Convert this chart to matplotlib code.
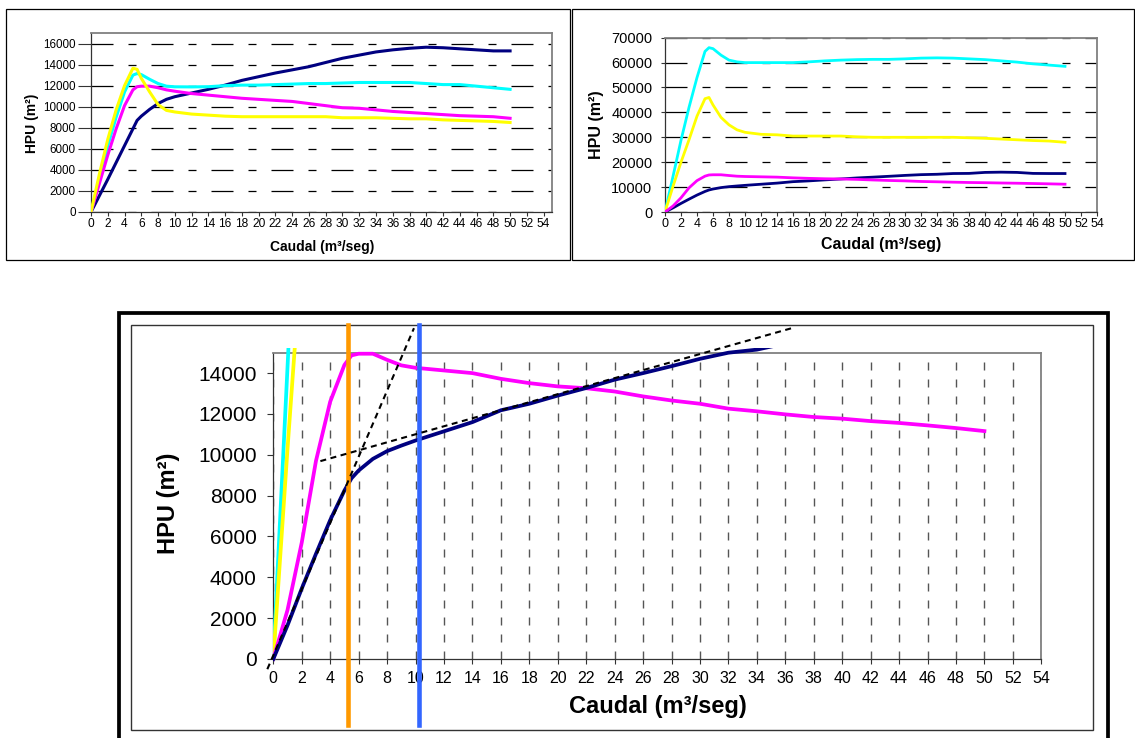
import matplotlib
matplotlib.use('Agg')
import matplotlib.pyplot as plt
from matplotlib.patches import Rectangle

plt.rcParams['font.family'] = ['Liberation Sans', 'DejaVu Sans']
plt.rcParams['lines.scale_dashes'] = False

# ---------------- data ----------------
caudal = [0, 1, 2, 3, 4, 5, 5.5, 6, 7, 8, 9, 10, 12, 14, 16, 18, 20, 22, 24, 26,
          28, 30, 32, 34, 36, 38, 40, 42, 44, 46, 48, 50]

# top-left chart (HPU, m2)
tl_navy = [0, 1550, 3100, 4700, 6300, 7900, 8700, 9100, 9750, 10300, 10700, 10950,
           11300, 11650, 12050, 12500, 12850, 13200, 13500, 13800, 14200, 14600,
           14900, 15200, 15400, 15550, 15650, 15600, 15500, 15400, 15300, 15300]
tl_cyan = [0, 3100, 6300, 9000, 11400, 13000, 13150, 13050, 12600, 12200, 11950, 11890,
           11880, 11900, 12000, 12050, 12050, 12100, 12150, 12200, 12200, 12250,
           12300, 12300, 12300, 12300, 12200, 12100, 12100, 11950, 11800, 11650]
tl_magenta = [0, 2700, 5400, 7900, 10100, 11600, 11900, 11950, 11950, 11800, 11600, 11470,
              11250, 11100, 10950, 10800, 10700, 10600, 10500, 10300, 10100, 9900,
              9850, 9700, 9550, 9450, 9350, 9250, 9150, 9100, 9050, 8900]
tl_yellow = [0, 3600, 6900, 9700, 12000, 13650, 13550, 12700, 11400, 10200, 9650, 9500,
             9300, 9200, 9100, 9050, 9050, 9050, 9050, 9050, 9050, 8950,
             8950, 8950, 8900, 8850, 8850, 8750, 8700, 8650, 8600, 8500]

# top-right chart and zoomed bottom chart (HPU, m2)
tr_navy = [0, 1650, 3450, 5150, 6800, 8250, 8850, 9230, 9800, 10180, 10450, 10700,
           11150, 11600, 12180, 12500, 12900, 13270, 13680, 14000, 14340, 14700,
           15000, 15150, 15450, 15500, 15900, 16000, 15900, 15500, 15450, 15450]
tr_magenta = [0, 2400, 5700, 9700, 12600, 14400, 14870, 14950, 14950, 14650, 14380, 14260,
              14130, 14000, 13720, 13510, 13350, 13260, 13100, 12860, 12660, 12500,
              12260, 12130, 11980, 11850, 11770, 11650, 11560, 11440, 11310, 11160]
tr_cyan = [0, 14300, 28800, 42000, 54000, 64500, 66000, 65600, 63000, 61000, 60300, 60000,
           60000, 60000, 60000, 60300, 60700, 61000, 61200, 61300, 61300, 61500,
           61800, 61900, 61800, 61500, 61200, 60700, 60200, 59500, 59000, 58500]
tr_yellow = [0, 10300, 20000, 29000, 38500, 45500, 46000, 43000, 38000, 35000, 33000, 32000,
             31200, 31000, 30500, 30500, 30500, 30500, 30200, 30000, 30000, 30000,
             30000, 30000, 30000, 29800, 29600, 29300, 29000, 28700, 28500, 28000]

# annotations on the bottom chart
tangent_steep_x = [-0.42, 9.89]
tangent_steep_y = [-500, 16200]
tangent_flat_x = [3.31, 36.7]
tangent_flat_y = [9690, 16250]
caudal_orange = 5.27
caudal_blue = 10.27

caudal_ticks = [0, 2, 4, 6, 8, 10, 12, 14, 16, 18, 20, 22, 24, 26, 28, 30, 32, 34,
                36, 38, 40, 42, 44, 46, 48, 50, 52, 54]
tl_yticks = [0, 2000, 4000, 6000, 8000, 10000, 12000, 14000, 16000]
tr_yticks = [0, 10000, 20000, 30000, 40000, 50000, 60000, 70000]
bt_yticks = [0, 2000, 4000, 6000, 8000, 10000, 12000, 14000]

ylabel_text = 'HPU (m²)'
xlabel_text = 'Caudal (m³/seg)'

NAVY, CYAN, MAGENTA, YELLOW = '#000080', '#00FFFF', '#FF00FF', '#FFFF00'

# ---------------- layout helpers ----------------
W, H = 1135, 738
PT = 0.72


def rect(l, t, r, b):
    return [l / W, 1 - b / H, (r - l) / W, (b - t) / H]


fig = plt.figure(figsize=(W / 100, H / 100), dpi=100)


def frame(l, t, r, b, lw, color):
    fig.add_artist(Rectangle((l / W, 1 - b / H), (r - l) / W, (b - t) / H,
                             transform=fig.transFigure, fill=False, lw=lw,
                             ec=color, zorder=0))


def style(ax):
    for s in ('left', 'bottom'):
        ax.spines[s].set_color('#333333')
        ax.spines[s].set_linewidth(0.9)
    for s in ('top', 'right'):
        ax.spines[s].set_color('#808080')
        ax.spines[s].set_linewidth(1.3)
    ax.set_axisbelow(True)
    ax.tick_params(colors='#333333', labelcolor='black', width=0.8)


def place_labels(ax, box, xl, yl, size):
    l, t, r, b = box
    ax.set_xlabel(xlabel_text, fontsize=size, fontweight='bold')
    ax.xaxis.set_label_coords((xl[0] - l) / (r - l), (b - xl[1]) / (b - t))
    ax.xaxis.label.set_va('center')
    ax.set_ylabel(ylabel_text, fontsize=size, fontweight='bold')
    ax.yaxis.set_label_coords((yl[0] - l) / (r - l), (b - yl[1]) / (b - t))
    ax.yaxis.label.set_va('center')
    ax.yaxis.label.set_ha('center')


# frames
frame(6, 9, 569.5, 260, 0.9, 'black')
frame(572, 9, 1133.5, 260, 0.9, 'black')
frame(118.7, 313.5, 1107.5, 760, 2.7, 'black')
frame(130.7, 325, 1093.3, 730, 1.0, '#333333')

grid_top = (0, (22 * PT, 15 * PT, 8 * PT, 15 * PT))

# ---------------- top-left ----------------
box = (91, 33, 552, 212)
ax1 = fig.add_axes(rect(*box))
style(ax1)
for y, c in ((tl_navy, NAVY), (tl_cyan, CYAN), (tl_magenta, MAGENTA), (tl_yellow, YELLOW)):
    ax1.plot(caudal, y, color=c, lw=2.2, solid_joinstyle='round', zorder=3)
ax1.set_xlim(0, 55)
ax1.set_ylim(0, 17000)
ax1.set_xticks(caudal_ticks)
ax1.set_yticks(tl_yticks)
ax1.yaxis.grid(True, color='black', lw=0.9, linestyle=grid_top)
ax1.tick_params(axis='y', length=9.4, pad=1.5, labelsize=8.4)
ax1.tick_params(axis='x', length=3, pad=1.5, labelsize=8.6)
place_labels(ax1, box, (322, 247), (32, 123), 10)

# ---------------- top-right ----------------
box = (665, 37.7, 1097, 212)
ax2 = fig.add_axes(rect(*box))
style(ax2)
for y, c in ((tr_cyan, CYAN), (tr_yellow, YELLOW), (tr_navy, NAVY), (tr_magenta, MAGENTA)):
    ax2.plot(caudal, y, color=c, lw=2.0, solid_joinstyle='round', zorder=3)
ax2.set_xlim(0, 54)
ax2.set_ylim(0, 70000)
ax2.set_xticks(caudal_ticks)
ax2.set_yticks(tr_yticks)
ax2.yaxis.grid(True, color='black', lw=0.9, linestyle=grid_top)
ax2.tick_params(axis='y', length=3, pad=6, labelsize=10.5)
ax2.tick_params(axis='x', length=3, pad=1.5, labelsize=9)
place_labels(ax2, box, (881, 245), (597, 125), 11.5)

# ---------------- bottom ----------------
box = (273.3, 352.7, 1041.3, 659)
ax3 = fig.add_axes(rect(*box))
style(ax3)
for y, c in ((tr_cyan, CYAN), (tr_yellow, YELLOW), (tr_magenta, MAGENTA), (tr_navy, NAVY)):
    ln, = ax3.plot(caudal, y, color=c, lw=2.7, solid_joinstyle='round', zorder=3)
    ln.set_clip_path(Rectangle((0, -0.02), 1, 1.035, transform=ax3.transAxes))
ax3.set_xlim(0, 54)
ax3.set_ylim(0, 15000)
ax3.set_xticks(caudal_ticks)
ax3.set_yticks(bt_yticks)
ax3.xaxis.grid(True, color='#555555', lw=1.0, linestyle=(0, (8 * PT, 9 * PT)))
ax3.tick_params(axis='y', length=4, pad=8, labelsize=15)
ax3.tick_params(axis='x', length=3.5, pad=5, labelsize=11.5)
place_labels(ax3, box, (658, 706), (168, 503), 17)

ymin_f = (659 - 725) / (659 - 352.7)
ymax_f = (659 - 325) / (659 - 352.7)
ax3.axvline(caudal_orange, ymin=ymin_f, ymax=ymax_f, color='#FF9900', lw=3.3,
            clip_on=False, zorder=5)
ax3.axvline(caudal_blue, ymin=ymin_f, ymax=ymax_f, color='#3366FF', lw=3.3,
            clip_on=False, zorder=5)
ax3.plot(tangent_steep_x, tangent_steep_y, color='black', lw=1.5,
         linestyle=(0, (6 * PT, 4.5 * PT)), clip_on=False, zorder=6)
ax3.plot(tangent_flat_x, tangent_flat_y, color='black', lw=1.5,
         linestyle=(0, (6 * PT, 4.5 * PT)), clip_on=False, zorder=6)

fig.savefig('out.png', dpi=100)
